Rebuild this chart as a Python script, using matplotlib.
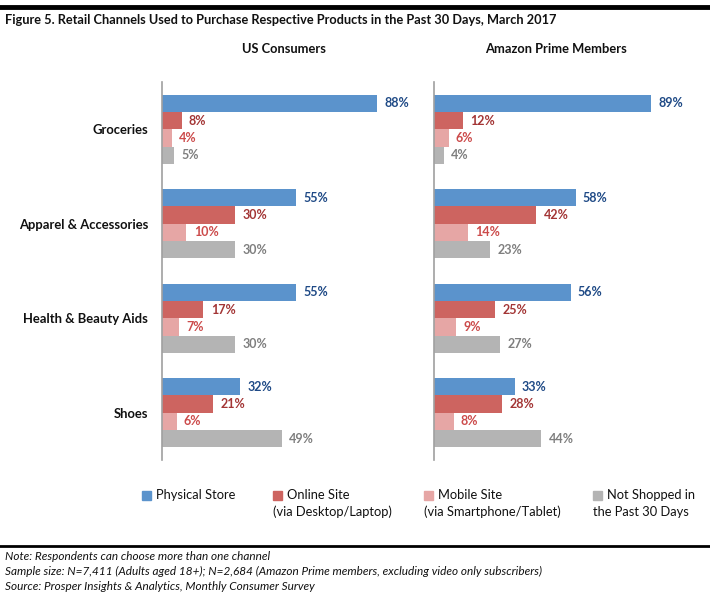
import matplotlib
matplotlib.use("Agg")
import matplotlib.pyplot as plt
from matplotlib.patches import Rectangle
from matplotlib.lines import Line2D

plt.rcParams['font.family'] = ['Lato', 'DejaVu Sans']

title = "Figure 5. Retail Channels Used to Purchase Respective Products in the Past 30 Days, March 2017"
panels = ["US Consumers", "Amazon Prime Members"]
categories = ["Groceries", "Apparel & Accessories", "Health & Beauty Aids", "Shoes"]
series = ["Physical Store", "Online Site", "Mobile Site", "Not Shopped in"]
series_line2 = ["", "(via Desktop/Laptop)", "(via Smartphone/Tablet)", "the Past 30 Days"]

us_physical = [88, 55, 55, 32]
us_online = [8, 30, 17, 21]
us_mobile = [4, 10, 7, 6]
us_none = [5, 30, 30, 49]

prime_physical = [89, 58, 56, 33]
prime_online = [12, 42, 25, 28]
prime_mobile = [6, 14, 9, 8]
prime_none = [4, 23, 27, 44]

bar_colors = ["#5B93CC", "#CD6460", "#E6A6A5", "#B4B4B4"]
label_colors = ["#1F4A86", "#A33535", "#CC4B4B", "#7F7F7F"]

W, H = 710, 601
fig = plt.figure(figsize=(W / 100, H / 100), dpi=100)

def px_axes(x0, y0, x1, y1):
    return fig.add_axes([x0 / W, 1 - y1 / H, (x1 - x0) / W, (y1 - y0) / H])

data = [
    [us_physical, us_online, us_mobile, us_none],
    [prime_physical, prime_online, prime_mobile, prime_none],
]
axes = [px_axes(162, 82, 406, 460), px_axes(434, 82, 678, 460)]

h = 0.183
for ai, (ax, vals) in enumerate(zip(axes, data)):
    for k, (v, c, lc) in enumerate(zip(vals, bar_colors, label_colors)):
        ys = [i + (k - 1.5) * h for i in range(len(categories))]
        ax.barh(ys, v, height=h, color=c, edgecolor='none')
        for y, val in zip(ys, v):
            ax.text(val + 3.0, y, f"{val}%", va='center', ha='left',
                    fontsize=9.0, fontweight='bold', color=lc)
    ax.set_xlim(0, 100)
    ax.set_ylim(3.5, -0.5)
    for s in ['top', 'right', 'bottom']:
        ax.spines[s].set_visible(False)
    ax.spines['left'].set_color('#A0A0A0')
    ax.spines['left'].set_linewidth(1.2)
    ax.set_xticks([])
    ax.tick_params(axis='y', length=0)
    if ai == 0:
        ax.set_yticks(range(len(categories)))
        ax.set_yticklabels(categories, fontsize=9.4, fontweight='bold', color='#111111')
        ax.tick_params(axis='y', pad=10)
    else:
        ax.set_yticks([])
    ax.set_title(panels[ai], fontsize=9.3, fontweight='bold', pad=21, color='#111111')

# top rule and title
fig.add_artist(Line2D([0, 1], [1 - 6.5 / H, 1 - 6.5 / H], color='black', lw=3.5))
fig.text(5 / W, 1 - 19.5 / H, title, fontsize=9.2, fontweight='bold', va='center', ha='left', color='#111111')

# legend
leg_x = [142, 273, 424, 593]
for x, c, t1, t2 in zip(leg_x, bar_colors, series, series_line2):
    fig.add_artist(Rectangle((x / W, 1 - 499.5 / H), 9 / W, 9 / H, color=c))
    fig.text((x + 14) / W, 1 - 495 / H, t1, fontsize=9.3, va='center', ha='left', color='#111111')
    if t2:
        fig.text(x / W, 1 - 512 / H, t2, fontsize=9.3, va='center', ha='left', color='#111111')

# bottom rule and notes
fig.add_artist(Line2D([0, 1], [1 - 546 / H, 1 - 546 / H], color='black', lw=2))
notes = [
    "Note: Respondents can choose more than one channel",
    "Sample size: N=7,411 (Adults aged 18+); N=2,684 (Amazon Prime members, excluding video only subscribers)",
    "Source: Prosper Insights & Analytics, Monthly Consumer Survey",
]
for i, n in enumerate(notes):
    fig.text(5 / W, 1 - (556 + 15 * i) / H, n, fontsize=8.5, style='italic', va='center', ha='left', color='#111111')

fig.savefig("out.png", dpi=100)
